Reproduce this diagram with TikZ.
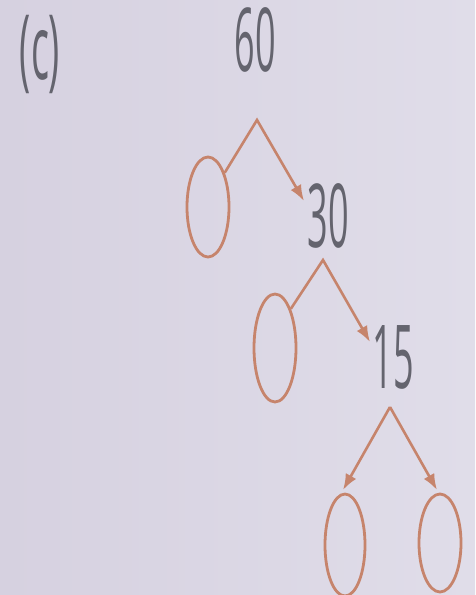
\documentclass[tikz,border=0pt]{standalone}
\usepackage{fontspec}
\setmainfont{Open Sans}
\usetikzlibrary{arrows.meta,shapes.geometric}
\definecolor{bgl}{RGB}{214,209,224}
\definecolor{bgr}{RGB}{224,221,233}
\definecolor{ln}{RGB}{198,132,108}
\definecolor{txt}{RGB}{100,100,110}
\begin{document}
\begin{tikzpicture}[x=1pt,y=-1pt,
  num/.style={text=txt, inner sep=0pt, font=\fontsize{36}{36}\selectfont},
  ring/.style={draw=ln, line width=2.8pt, ellipse, inner sep=0pt},
  conn/.style={draw=ln, line width=2.6pt, line join=miter},
  arr/.style={conn, -{Latex[length=16pt,width=12pt]}}]
\shade[left color=bgl, right color=bgr] (0,0) rectangle (475,595);
\useasboundingbox (0,0) rectangle (475,595);
\node[num] (lab) at (40,54) {\scalebox{1.05}[2.5]{(c)}};
\node[num] (n60) at (255,40) {\scalebox{1}[2.45]{60}};
\node[ring, minimum width=42pt, minimum height=100pt] (o1) at (208,207) {};
\node[num] (n30) at (328,216) {\scalebox{1}[2.45]{30}};
\node[ring, minimum width=42pt, minimum height=108pt] (o2) at (275,348) {};
\node[num] (n15) at (393,357) {\scalebox{1}[2.45]{15}};
\node[ring, minimum width=40pt, minimum height=102pt] (o3) at (345,545) {};
\node[ring, minimum width=42pt, minimum height=98pt] (o4) at (440,543) {};
\coordinate (a1) at (257,120);
\coordinate (e1) at (304,201);
\coordinate (a2) at (323,260);
\coordinate (e2) at (370,342);
\coordinate (a3) at (390,407);
\coordinate (e3) at (343,490);
\coordinate (e4) at (437,490);
\draw[arr] (o1.64) -- (a1) -- (e1);
\draw[arr] (o2.68) -- (a2) -- (e2);
\draw[arr] (a3) -- (e3);
\draw[arr] (a3) -- (e4);
\end{tikzpicture}
\end{document}
